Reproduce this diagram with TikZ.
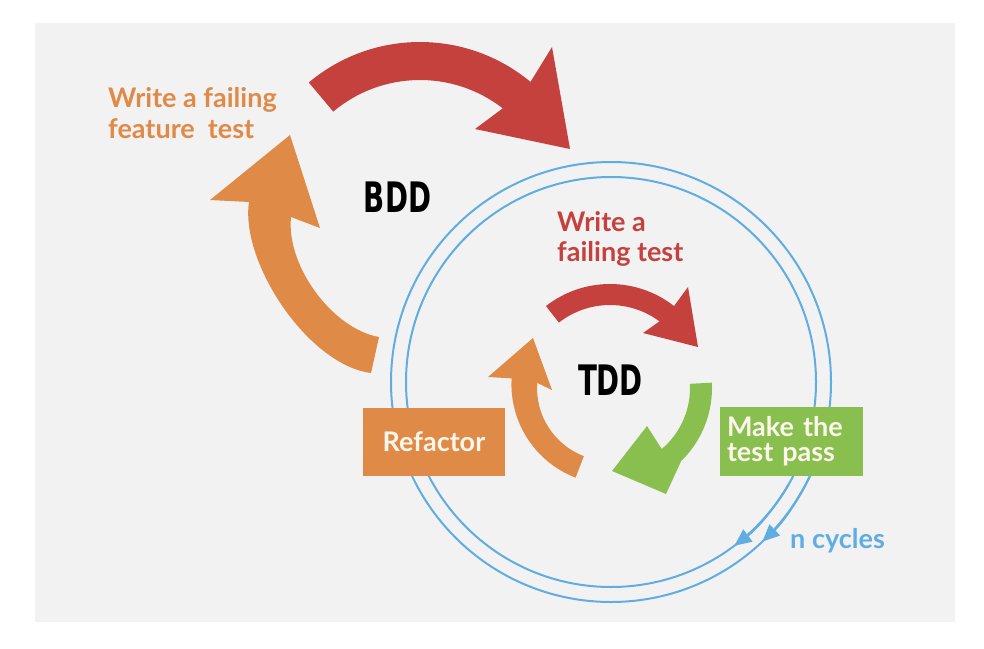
\documentclass[tikz,border=0pt]{standalone}
\usepackage{fontspec}
\setmainfont{Lato}
\newfontfamily\heavyfont[FakeStretch=0.66]{DejaVu Sans}
\usetikzlibrary{arrows.meta}
\definecolor{bg}{RGB}{242,242,242}
\definecolor{org}{RGB}{224,138,72}
\definecolor{rd}{RGB}{197,65,62}
\definecolor{grn}{RGB}{137,191,79}
\definecolor{blu}{RGB}{96,173,226}
\definecolor{cream}{RGB}{252,247,234}
\tikzset{
  lbl/.style={font=\bfseries\fontsize{27}{31}\selectfont, inner sep=0pt, anchor=base west},
  heavy/.style={font=\heavyfont\bfseries\fontsize{42}{42}\selectfont, inner sep=0pt, text=black},
  stepbox/.style={inner sep=0pt, text=cream, font=\bfseries\fontsize{27}{25}\selectfont},
  ring/.style={draw=blu, line width=2pt},
  ringtip/.style={blu, line width=2pt, -{Triangle[length=17pt,width=15pt]}}
}
\begin{document}
\begin{tikzpicture}[x=1pt,y=-1pt]
\useasboundingbox (0,0) rectangle (984,648);
\fill[white] (0,0) rectangle (984,648);
\fill[bg] (35,23) rectangle (955,622);

% cycles rings
\coordinate (c) at (611,382);
\draw[ring] (c) circle[radius=220];
\draw[ring] (c) circle[radius=205];
\draw[ringtip] ([shift={(c)}]30:205) arc[start angle=30, end angle=53, radius=205];
\draw[ringtip] ([shift={(c)}]25:220) arc[start angle=25, end angle=46.5, radius=220];

% BDD red arrow
\fill[rd] ([shift={(420,215)}]-130:173) arc[start angle=-130, end angle=-50.3, radius=173]
  -- (552,47) -- (570,149) -- (475,129)
  -- ([shift={(420,215)}]-52.2:135) arc[start angle=-52.2, end angle=-130, radius=135] -- cycle;

% BDD orange arrow
\fill[org] (371,373) .. controls (308,365) and (240,262) .. (249,202)
  -- (210,200) -- (290,135) -- (320,228)
  -- (291,217) .. controls (286,267) and (333.7,329.3) .. (379,337) -- cycle;

% TDD red arrow
\fill[rd] ([shift={(610,388)}]-128:104) arc[start angle=-128, end angle=-52, radius=104]
  -- (688,287) -- (698,347) -- (643,333)
  -- ([shift={(610,388)}]-53.4:83) arc[start angle=-53.4, end angle=-128, radius=83] -- cycle;

% TDD green arrow
\fill[grn] ([shift={(610,388)}]-3:102) arc[start angle=-3, end angle=45.8, radius=102]
  -- (666,494) -- (612,471) -- (647,426)
  -- ([shift={(610,388)}]49.7:80) arc[start angle=49.7, end angle=-3, radius=80] -- cycle;

% TDD orange arrow
\fill[org] ([shift={(610,388)}]111:96) arc[start angle=111, end angle=183.4, radius=100]
  -- (488,377) -- (533,338) -- (552,390)
  -- ([shift={(610,388)}]184:73) arc[start angle=184, end angle=111, radius=73] -- cycle;

% labels
\node[lbl, text=org] (bddA) at (108,107) {Write a failing};
\node[lbl, text=org] (bddB) at (108,138) {feature~~test};
\node[lbl, text=rd] (tddA) at (557,231) {Write a};
\node[lbl, text=rd] (tddB) at (557,261) {failing test};
\node[heavy] (bdd) at (397.5,197.5) {BDD};
\node[heavy] (tdd) at (610.5,380) {TDD};
\node[lbl, text=blu] (cyc) at (790,548) {n cycles};

% boxes
\node[stepbox, fill=org, minimum width=142pt, minimum height=68pt] (refactor) at (434,442) {Refactor};
\node[stepbox, fill=grn, minimum width=143pt, minimum height=69pt, text width=129pt, align=left] (pass) at (791.5,441.5) {Make the\\test pass};
\end{tikzpicture}
\end{document}
